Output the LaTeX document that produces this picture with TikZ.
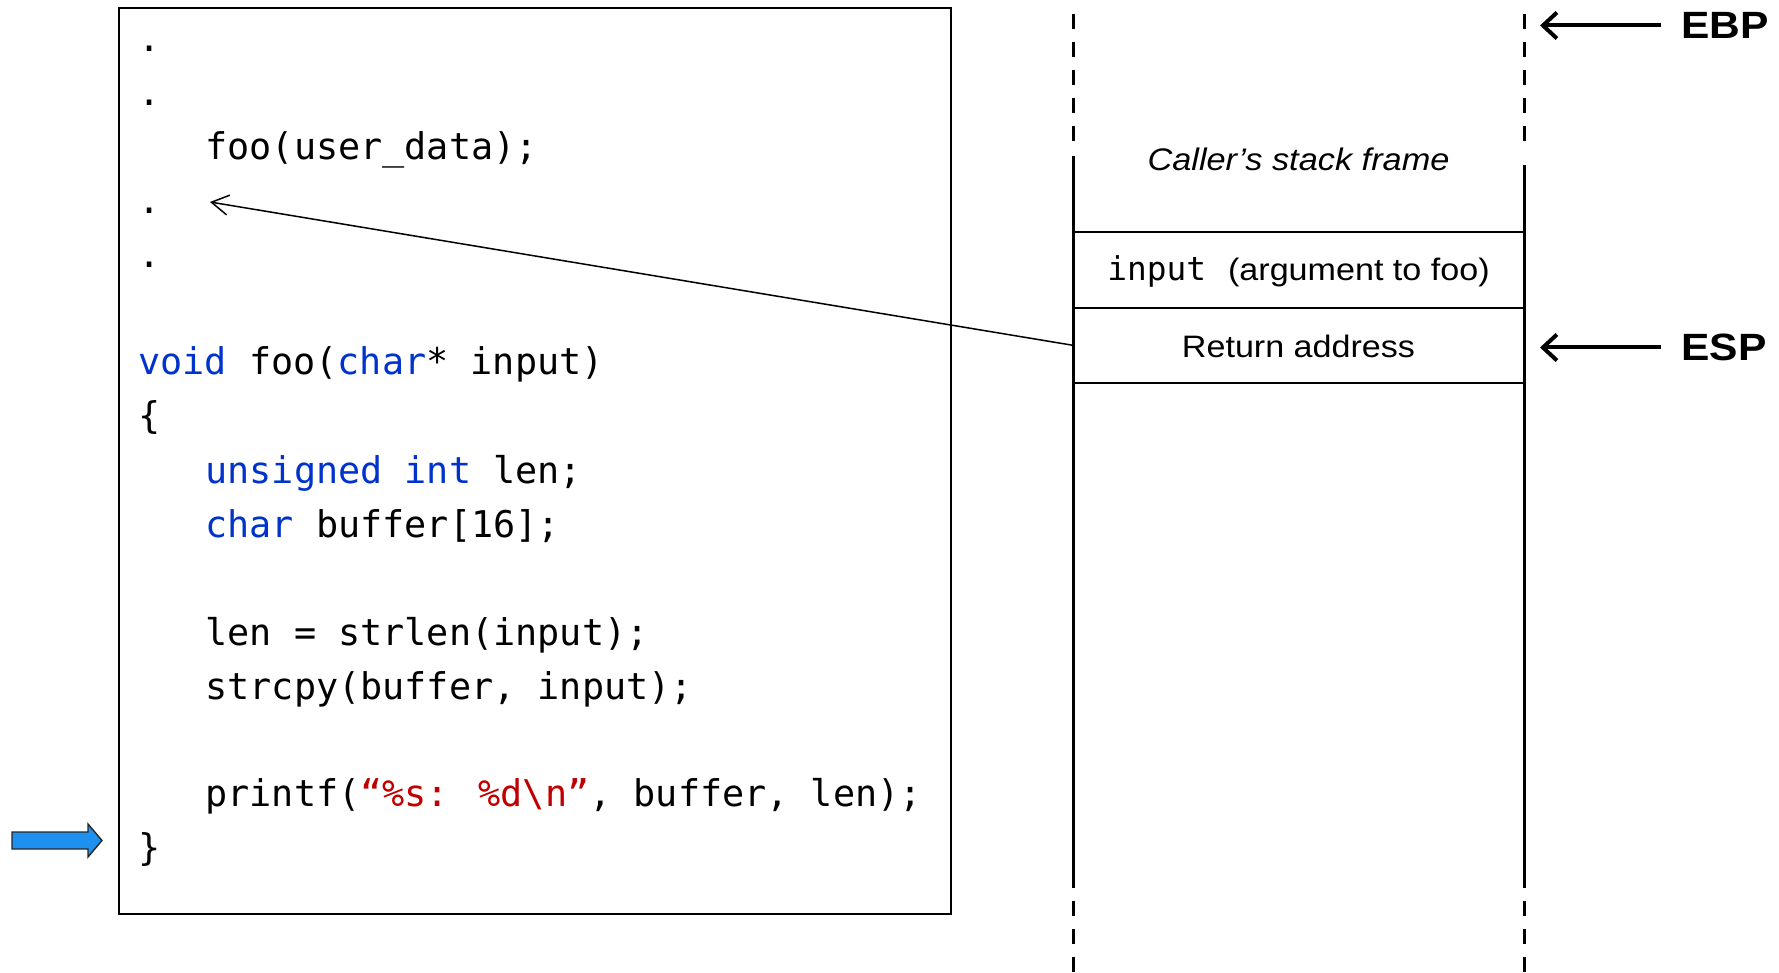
\documentclass[tikz,border=0pt]{standalone}
\usepackage{fontspec}
\setmainfont{Liberation Sans}[FakeStretch=1.1]
\newfontfamily\codefont{DejaVu Sans Mono}
\newfontfamily\regfont{Liberation Sans}[FakeStretch=1.12]
\usetikzlibrary{arrows.meta}

\definecolor{kwblue}{RGB}{0,51,204}
\definecolor{strred}{RGB}{192,0,0}
\definecolor{pcblue}{RGB}{30,144,240}
\newcommand{\kwd}[1]{\textcolor{kwblue}{#1}}
\newcommand{\strlit}[1]{\textcolor{strred}{#1}}

\begin{document}
\begin{tikzpicture}[x=0.5pt, y=-0.5pt,
    code/.style={anchor=base west, inner sep=0pt, font=\codefont\fontsize{18.4pt}{22pt}\selectfont},
    row/.style={minimum width=225.5pt, minimum height=37.75pt, inner sep=0pt,
      text height=11pt, text depth=0pt, font=\fontsize{15.5pt}{18pt}\selectfont},
    wall/.style={line width=1.5pt},
    cut/.style={line width=1.5pt, dash pattern=on 7.5pt off 6.5pt},
    sep/.style={line width=1pt},
    reg/.style={anchor=west, inner xsep=10pt, inner ysep=0pt, text depth=0pt,
      font=\regfont\bfseries\fontsize{19pt}{22pt}\selectfont},
    ptr/.style={line width=2pt, -{Straight Barb[length=7pt,width=13pt]}},
    link/.style={line width=0.75pt, -{Straight Barb[length=8.5pt,width=10pt]}},
    pcarrow/.style={fill=pcblue, draw=black!85, line width=0.7pt}]
    \useasboundingbox (0,0) rectangle (1779,973);

    % code listing
    \node[draw, line width=1pt, anchor=north west, minimum width=416pt,
      minimum height=453pt, inner sep=0pt] (codebox) at (118,7) {};
    \node[code] (dot1) at (138,52) {.};
    \node[code] (dot2) at (138,106) {.};
    \node[code] (call) at (205,160) {foo(user\_data);};
    \node[code] (dot3) at (138,214) {.};
    \node[code] (dot4) at (138,268) {.};
    \node[code] (sig) at (138,375) {\kwd{void} foo(\kwd{char}* input)};
    \node[code] (open) at (138,429) {\{};
    \node[code] (decl1) at (205,483) {\kwd{unsigned int} len;};
    \node[code] (decl2) at (205,537) {\kwd{char} buffer[16];};
    \node[code] (len) at (205,645) {len = strlen(input);};
    \node[code] (cpy) at (205,699) {strcpy(buffer, input);};
    \node[code] (prn) at (205,806) {printf(\strlit{“\%s: \%d\textbackslash n”}, buffer, len);};
    \node[code] (close) at (138,860) {\}};

    % current instruction
    \draw[pcarrow] (12,832) -- (88,832) -- (88,824) -- (102,840.5) -- (88,857)
      -- (88,849) -- (12,849) -- cycle;

    % stack walls
    \foreach \x/\s in {1073/156, 1524/165} {
      \draw[cut] (\x,14) -- (\x,143);
      \draw[wall] (\x,\s) -- (\x,888);
      \draw[cut] (\x,901) -- (\x,973);
    }

    % stack frame
    \node[anchor=base, font=\itshape\fontsize{15.6pt}{18pt}\selectfont] (caller) at (1298.5,171) {Caller’s stack frame};
    \node[row] (inp) at (1298.5,269.75) {{\codefont\fontsize{16.4pt}{20pt}\selectfont input}\hspace{11pt}(argument to foo)};
    \node[row, text height=12pt] (ret) at (1298.5,345.25) {Return address};
    \draw[sep] (inp.north west) -- (inp.north east);
    \draw[sep] (inp.south west) -- (inp.south east);
    \draw[sep] (ret.south west) -- (ret.south east);

    % return address points back into the caller
    \coordinate (callsite) at (210,202);
    \draw[link] (ret.west) -- (callsite);

    % registers
    \node[reg] (ebp) at (1661,25.5) {EBP};
    \node[reg] (esp) at (1661,347.5) {ESP};
    \coordinate (ebptip) at (1540,25.5);
    \coordinate (esptip) at (1540,347.5);
    \draw[ptr] (ebp.west) -- (ebptip);
    \draw[ptr] (esp.west) -- (esptip);
  \end{tikzpicture}
\end{document}
